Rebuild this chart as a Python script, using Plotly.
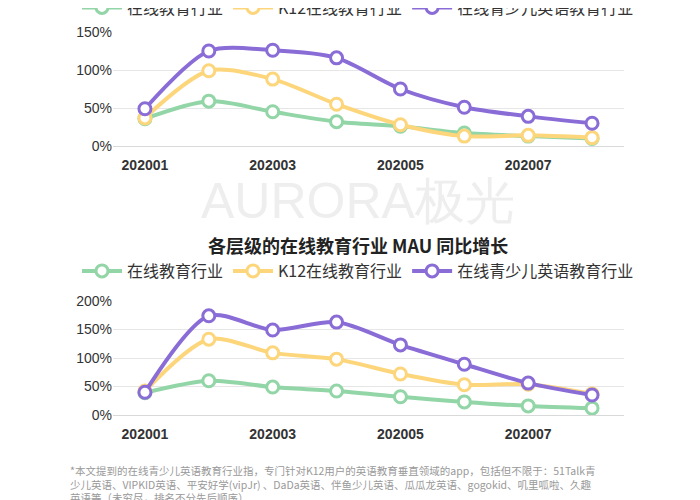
import plotly.graph_objects as go

months = ["202001", "202002", "202003", "202004", "202005", "202006", "202007", "202008"]
tick_labels = ["202001", "202003", "202005", "202007"]
series_names = ["在线教育行业", "K12在线教育行业", "在线青少儿英语教育行业"]
colors = ["#92d5a6", "#fdd67c", "#8a6cd7"]

# top chart (%)
top_online = [36, 59, 45, 32, 26, 17, 13, 10]
top_k12 = [37, 99, 88, 55, 28, 13, 14, 11]
top_english = [49, 125, 126, 116, 75, 51, 39, 30]

# bottom chart: MAU YoY growth (%)
bot_online = [39, 60, 49, 42, 32, 23, 16, 12]
bot_k12 = [42, 133, 109, 98, 72, 53, 54, 37]
bot_english = [40, 174, 149, 163, 123, 89, 56, 35]

fig = go.Figure()

def add_series(values, i, xa, ya, legend):
    fig.add_trace(go.Scatter(
        x=months, y=values, name=series_names[i], mode="lines+markers",
        line=dict(color=colors[i], width=4, shape="spline", smoothing=0.8),
        marker=dict(size=12, color="white", line=dict(color=colors[i], width=3)),
        xaxis=xa, yaxis=ya, legend=legend, cliponaxis=False,
    ))

for i, v in enumerate([top_online, top_k12, top_english]):
    add_series(v, i, "x", "y", "legend")
for i, v in enumerate([bot_online, bot_k12, bot_english]):
    add_series(v, i, "x2", "y2", "legend2")

axis_font = dict(family="Liberation Sans", size=14, color="#333")
xcommon = dict(type="category", tickvals=tick_labels, ticktext=["<b>%s</b>" % t for t in tick_labels],
               tickfont=dict(family="Liberation Sans", size=14, color="#333"),
               showgrid=False, showline=True, linecolor="#d9d9d9", ticks="",
               ticklabelstandoff=6, range=[-0.5, 7.5])
ycommon = dict(ticksuffix="%", tickfont=axis_font, gridcolor="#e6e6e6",
               zeroline=False, showline=False)
legend_common = dict(orientation="h", x=0.5, xanchor="center", yanchor="top",
                     font=dict(size=16, color="#333"), itemwidth=40)

fig.update_layout(
    width=700, height=500, paper_bgcolor="white", plot_bgcolor="white",
    margin=dict(l=0, r=0, t=0, b=0, autoexpand=False),
    font=dict(family="Noto Sans CJK SC", color="#333"),
    xaxis=dict(domain=[0.15, 0.88], anchor="y", **xcommon),
    yaxis=dict(domain=[0.724, 0.952], range=[0, 150], dtick=50, anchor="x", **ycommon),
    xaxis2=dict(domain=[0.15, 0.88], anchor="y2", **xcommon),
    yaxis2=dict(domain=[0.186, 0.414], range=[0, 200], dtick=50, anchor="x2", **ycommon),
    legend=dict(y=1.035, **legend_common),
    legend2=dict(y=0.508, **legend_common),
    annotations=[
        dict(text="AURORA极光", x=0.5, y=0.615, xref="paper", yref="paper", showarrow=False,
             font=dict(family="Liberation Sans", size=50, color="rgba(200,200,200,0.3)")),
        dict(text="<b>各层级的在线教育行业 MAU 同比增长</b>", x=0.5, y=0.526, xref="paper", yref="paper",
             showarrow=False, font=dict(size=18, color="#222")),
        dict(text="*本文提到的在线青少儿英语教育行业指，专门针对K12用户的英语教育垂直领域的app，包括但不限于：51Talk青<br>"
                  "少儿英语、VIPKID英语、平安好学(vipJr) 、DaDa英语、伴鱼少儿英语、瓜瓜龙英语、gogokid、叽里呱啦、久趣<br>"
                  "英语等（未穷尽，排名不分先后顺序）",
             x=0.085, y=0.095, xref="paper", yref="paper", xanchor="left", yanchor="top",
             align="left", showarrow=False, font=dict(size=10.5, color="#999")),
    ],
)

fig.write_html("out.html")
